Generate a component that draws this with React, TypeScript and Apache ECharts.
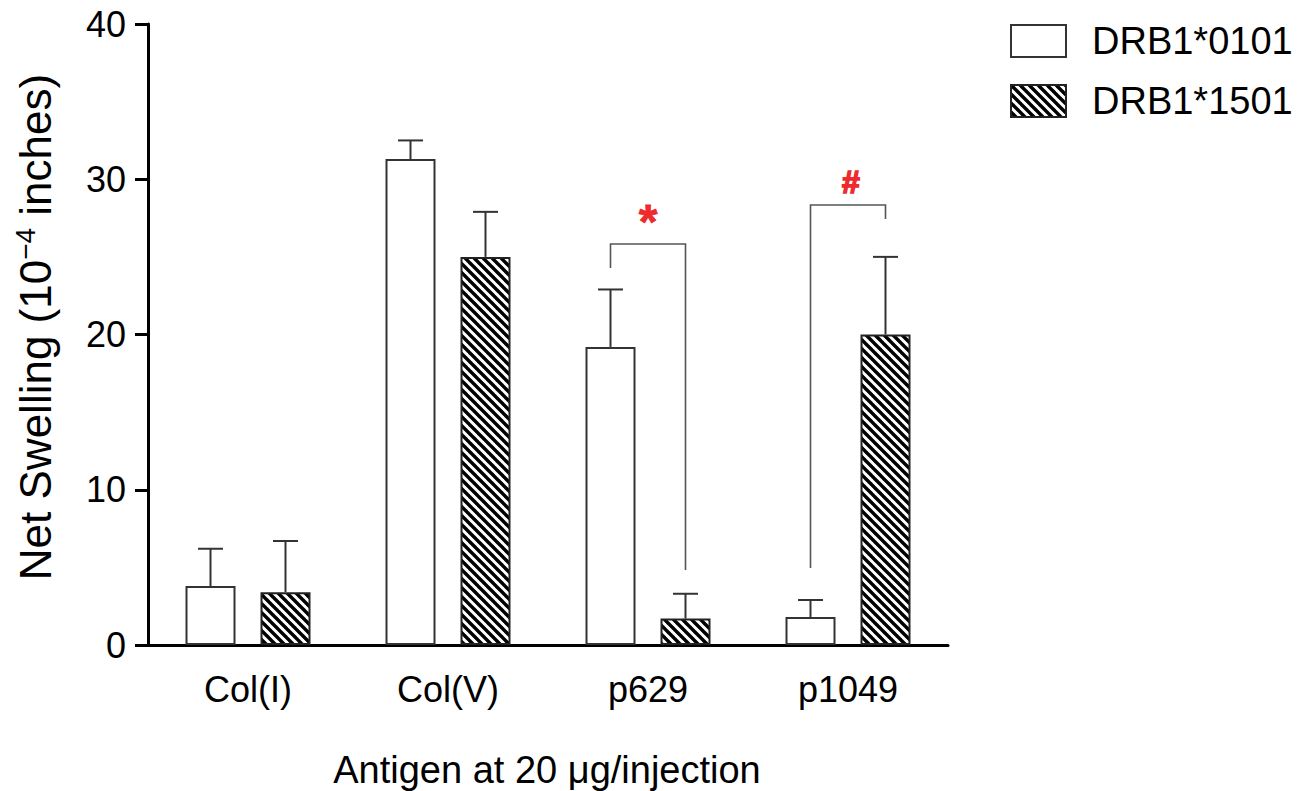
import React, { useEffect, useRef } from "react";
import * as echarts from "echarts";

const categories = ["Col(I)", "Col(V)", "p629", "p1049"];
const seriesNames = ["DRB1*0101", "DRB1*1501"];
const whiteValues = [3.8, 31.3, 19.2, 1.8];
const whiteErrTop = [6.2, 32.5, 22.9, 2.9];
const hatchValues = [3.4, 25.0, 1.7, 20.0];
const hatchErrTop = [6.7, 27.9, 3.3, 25.0];
const yTicks = [0, 10, 20, 30, 40];

// significance brackets: category index, top, left leg end, right leg end
const bracketCats = [2, 3];
const bracketTop = [25.83, 28.34];
const bracketLeftEnd = [24.28, 4.96];
const bracketRightEnd = [4.83, 27.44];
const sigLabels = ["*", "#"];
const sigY = [27.25, 29.8];
const sigSizes = [48, 32];

const FONT = "'Liberation Sans', Arial, Helvetica, sans-serif";
const OFFSET = 0.1875;

function makeHatch(): HTMLCanvasElement {
  const s = 9;
  const c = document.createElement("canvas");
  c.width = s;
  c.height = s;
  const ctx = c.getContext("2d")!;
  ctx.fillStyle = "#fff";
  ctx.fillRect(0, 0, s, s);
  ctx.strokeStyle = "#000";
  ctx.lineWidth = 3.4;
  for (let k = -1; k <= 1; k++) {
    ctx.beginPath();
    ctx.moveTo(-1, k * s - 1);
    ctx.lineTo(s + 1, s + k * s + 1);
    ctx.stroke();
  }
  return c;
}

export default function App() {
  const ref = useRef<HTMLDivElement>(null);
  useEffect(() => {
    if (!ref.current) return;
    const chart = echarts.init(ref.current, null, { renderer: "svg" });
    const hatch = makeHatch();

    const errData = [
      ...whiteValues.map((v, i) => [i, v, whiteErrTop[i], -1]),
      ...hatchValues.map((v, i) => [i, v, hatchErrTop[i], 1]),
    ];
    const bracketData = bracketCats.map((c, i) => [
      c,
      bracketTop[i],
      bracketLeftEnd[i],
      bracketRightEnd[i],
      sigY[i],
      i,
    ]);

    const option: any = {
      animation: false,
      backgroundColor: "#fff",
      grid: { left: 148, top: 24, width: 800, height: 621, containLabel: false },
      legend: {
        orient: "vertical",
        left: 1010,
        top: 22,
        padding: 0,
        itemWidth: 55,
        itemHeight: 32,
        itemGap: 22,
        icon: "rect",
        data: seriesNames,
        textStyle: {
          fontFamily: FONT,
          fontSize: 38,
          color: "#000",
          lineHeight: 32,
          padding: [0, 0, 0, 21],
        },
      },
      xAxis: {
        type: "category",
        data: categories,
        boundaryGap: true,
        axisLine: { lineStyle: { color: "#000", width: 3 } },
        axisTick: { alignWithLabel: true, length: 12, lineStyle: { color: "#000", width: 3 } },
        axisLabel: { fontFamily: FONT, fontSize: 36, color: "#000", margin: 26 },
      },
      yAxis: {
        type: "value",
        min: yTicks[0],
        max: yTicks[yTicks.length - 1],
        interval: 10,
        axisLine: { show: true, lineStyle: { color: "#000", width: 3 } },
        axisTick: { show: true, length: 13, lineStyle: { color: "#000", width: 3 } },
        axisLabel: { fontFamily: FONT, fontSize: 36, color: "#000", margin: 22 },
        splitLine: { show: false },
      },
      graphic: [
        {
          type: "text",
          x: 35,
          y: 327,
          rotation: Math.PI / 2,
          style: {
            text: "{a|Net Swelling (10}{b|−4}{a| inches)}",
            rich: {
              a: { fontSize: 44, fontFamily: FONT, fill: "#000", lineHeight: 48 },
              b: { fontSize: 28, fontFamily: FONT, fill: "#000", verticalAlign: "top", lineHeight: 48 },
            },
            align: "center",
            textAlign: "center",
            verticalAlign: "middle",
            textVerticalAlign: "middle",
          },
        },
        {
          type: "text",
          x: 547,
          y: 770,
          style: {
            text: "Antigen at 20 μg/injection",
            fontSize: 38,
            fontFamily: FONT,
            fill: "#000",
            align: "center",
            textAlign: "center",
            verticalAlign: "middle",
            textVerticalAlign: "middle",
          },
        },
      ],
      series: [
        {
          name: seriesNames[0],
          type: "bar",
          data: whiteValues,
          barWidth: 50,
          barGap: "50%",
          itemStyle: { color: "#fff", borderColor: "#333", borderWidth: 2 },
          z: 2,
        },
        {
          name: seriesNames[1],
          type: "bar",
          data: hatchValues,
          barWidth: 50,
          barGap: "50%",
          itemStyle: {
            color: { image: hatch, repeat: "repeat" },
            borderColor: "#222",
            borderWidth: 2,
          },
          z: 2,
        },
        {
          type: "custom",
          name: "err",
          data: errData,
          z: 3,
          silent: true,
          renderItem: (params: any, api: any) => {
            const idx = api.value(0);
            const v = api.value(1);
            const e = api.value(2);
            const sign = api.value(3);
            const band = api.size([1, 0])[0];
            const p0 = api.coord([idx, v]);
            const p1 = api.coord([idx, e]);
            const x = p0[0] + sign * band * OFFSET;
            const cap = 12.5;
            const st = { stroke: "#333", lineWidth: 2 };
            return {
              type: "group",
              children: [
                { type: "line", shape: { x1: x, y1: p0[1], x2: x, y2: p1[1] }, style: st },
                { type: "line", shape: { x1: x - cap, y1: p1[1], x2: x + cap, y2: p1[1] }, style: st },
              ],
            };
          },
        },
        {
          type: "custom",
          name: "sig",
          data: bracketData,
          z: 3,
          silent: true,
          renderItem: (params: any, api: any) => {
            const idx = api.value(0);
            const top = api.value(1);
            const le = api.value(2);
            const re = api.value(3);
            const sy = api.value(4);
            const k = api.value(5);
            const band = api.size([1, 0])[0];
            const c = api.coord([idx, top]);
            const xl = c[0] - band * OFFSET;
            const xr = c[0] + band * OFFSET;
            const yl = api.coord([idx, le])[1];
            const yr = api.coord([idx, re])[1];
            const ys = api.coord([idx, sy])[1];
            return {
              type: "group",
              children: [
                {
                  type: "polyline",
                  shape: { points: [[xl, yl], [xl, c[1]], [xr, c[1]], [xr, yr]] },
                  style: { stroke: "#555", lineWidth: 1.6, fill: "none" },
                },
                {
                  type: "text",
                  x: c[0] + (k === 1 ? 3 : 0),
                  y: ys,
                  style: {
                    text: sigLabels[k],
                    fontSize: sigSizes[k],
                    fontWeight: "bold",
                    fontFamily: FONT,
                    fill: "#ee2a2e",
                    stroke: "#ee2a2e",
                    lineWidth: k === 1 ? 1.6 : 0.8,
                    align: "center",
                    verticalAlign: "middle",
                  },
                },
              ],
            };
          },
        },
      ],
    };
    chart.setOption(option);
    return () => chart.dispose();
  }, []);
  return (
    <div
      ref={ref}
      style={{ position: "fixed", left: 0, top: 0, width: 1308, height: 791, background: "#fff" }}
    />
  );
}
